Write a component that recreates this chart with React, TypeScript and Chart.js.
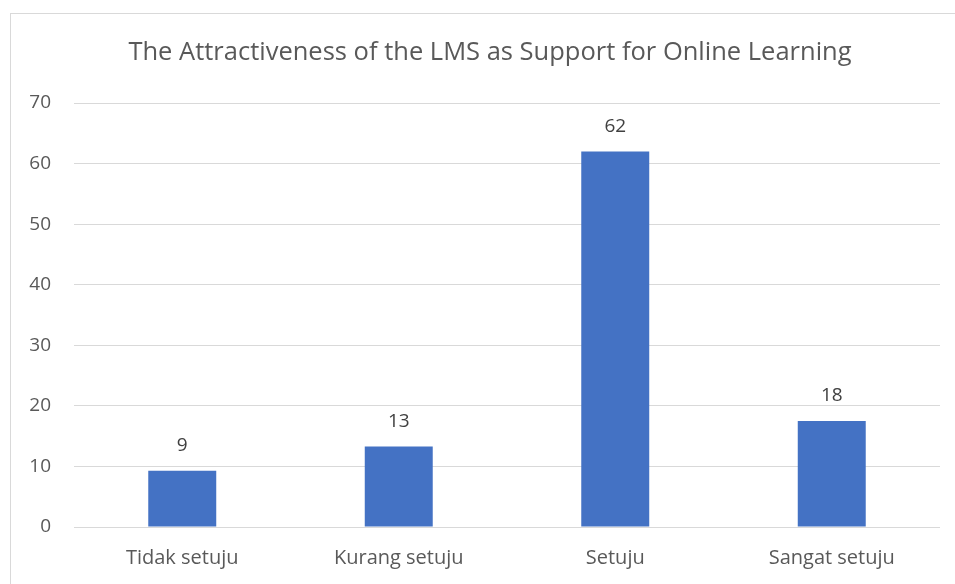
import React, { useEffect, useRef } from "react";
import { Chart, registerables } from "chart.js";

Chart.register(...registerables);

const categories = ["Tidak setuju", "Kurang setuju", "Setuju", "Sangat setuju"];
const values = [9.3, 13.3, 62.0, 17.5];
const yTicks = [0, 10, 20, 30, 40, 50, 60, 70];
const chartTitle = "The Attractiveness of the LMS as Support for Online Learning";

const FONT = "'Open Sans', 'Noto Sans', sans-serif";
const TEXT = "#595959";

const dataLabelPlugin = {
  id: "dataLabels",
  afterDatasetsDraw(chart: any) {
    const { ctx } = chart;
    const meta = chart.getDatasetMeta(0);
    const ds = chart.data.datasets[0];
    ctx.save();
    ctx.font = `19px ${FONT}`;
    ctx.fillStyle = "#404040";
    ctx.textAlign = "center";
    ctx.textBaseline = "middle";
    meta.data.forEach((bar: any, i: number) => {
      const v = ds.data[i] as number;
      ctx.fillText(String(Math.round(v)), bar.x, bar.y - 25);
    });
    ctx.restore();
  },
};

const titlePlugin = {
  id: "customTitle",
  afterDraw(chart: any) {
    const { ctx } = chart;
    ctx.save();
    ctx.font = `25.5px ${FONT}`;
    ctx.fillStyle = TEXT;
    ctx.textAlign = "center";
    ctx.textBaseline = "middle";
    ctx.fillText(chartTitle, 490, 53);
    ctx.restore();
  },
};

export default function App() {
  const ref = useRef<HTMLCanvasElement | null>(null);
  useEffect(() => {
    if (!ref.current) return;
    const chart = new Chart(ref.current, {
      type: "bar",
      data: {
        labels: categories,
        datasets: [
          {
            data: values,
            backgroundColor: "#4472C4",
            categoryPercentage: 1,
            barPercentage: 0.314,
          },
        ],
      },
      plugins: [dataLabelPlugin, titlePlugin],
      options: {
        animation: false,
        responsive: false,
        maintainAspectRatio: false,
        layout: { padding: { left: 0, right: 15, top: 103, bottom: 0 } },
        plugins: {
          legend: { display: false },
          tooltip: { enabled: false },
          title: { display: false },
        },
        scales: {
          x: {
            grid: { display: false, drawTicks: false },
            border: { display: false },
            ticks: { color: TEXT, font: { family: FONT, size: 20 }, padding: 19, maxRotation: 0 },
            afterFit: (s: any) => {
              s.height = 57;
            },
          },
          y: {
            min: 0,
            max: 70,
            afterBuildTicks: (s: any) => {
              s.ticks = yTicks.map((v) => ({ value: v }));
            },
            grid: { color: "#d9d9d9", lineWidth: 1, drawTicks: false },
            border: { display: false },
            ticks: { color: TEXT, font: { family: FONT, size: 19 }, padding: 23 },
            afterFit: (s: any) => {
              s.width = 74;
            },
          },
        },
      },
    });
    return () => chart.destroy();
  }, []);

  return (
    <div style={{ position: "fixed", left: 0, top: 0, width: 955, height: 584, background: "#fff", overflow: "hidden" }}>
      <div
        style={{
          position: "absolute",
          left: 10,
          top: 13,
          width: 1000,
          height: 700,
          border: "1px solid #d9d9d9",
          boxSizing: "border-box",
        }}
      />
      <canvas ref={ref} width={955} height={584} style={{ position: "absolute", left: 0, top: 0 }} />
    </div>
  );
}
